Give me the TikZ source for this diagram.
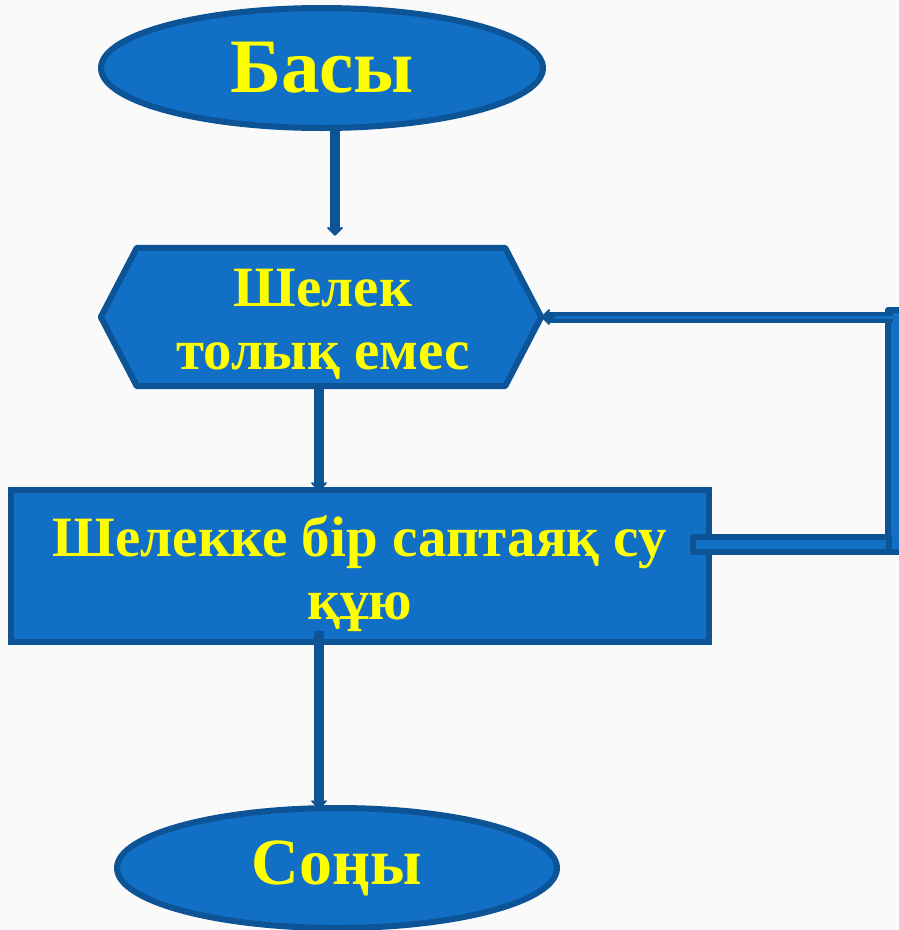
\documentclass[tikz,border=0pt]{standalone}
\usepackage{fontspec}
\setmainfont{Liberation Serif}
\usetikzlibrary{arrows.meta,shapes.geometric}
\definecolor{fillblue}{RGB}{17,111,197}
\definecolor{edgeblue}{RGB}{12,84,150}
\definecolor{txtyellow}{RGB}{255,255,0}
\definecolor{bgwhite}{RGB}{250,250,250}
\begin{document}
\begin{tikzpicture}[x=1pt,y=-1pt,
  shapebox/.style={fill=fillblue, draw=edgeblue, line width=6pt},
  txt/.style={text=txtyellow, font=\bfseries\fontsize{57}{63}\selectfont, align=center},
  bigtxt/.style={text=txtyellow, font=\bfseries\fontsize{77}{84}\selectfont},
  conn/.style={draw=edgeblue, line width=10pt, -{Stealth[length=10pt,width=20pt,inset=3pt,round]}},
  barbox/.style={fill=fillblue, draw=edgeblue, line width=6pt, line join=round},
 ]
\fill[bgwhite] (0,0) rectangle (898,930);
\useasboundingbox (0,0) rectangle (898,930);

% start ellipse
\node[shapebox, ellipse, minimum width=442, minimum height=120, inner sep=0, bigtxt] (start) at (322,68) {Басы};

% hexagon (loop condition)
\node[minimum width=440, minimum height=138, inner sep=0] (hex) at (321,317) {};
\draw[shapebox, line join=round] (hex.west) -- ([xshift=36pt]hex.north west) -- ([xshift=-36pt]hex.north east) -- (hex.east) -- ([xshift=-36pt]hex.south east) -- ([xshift=36pt]hex.south west) -- cycle;
\node[txt] at ([xshift=2pt,yshift=-7pt]hex.center) {Шелек\\толық емес};

% action rectangle
\node[shapebox, rectangle, minimum width=698, minimum height=152, inner sep=0] (act) at (360,566) {};
\node[txt] at ([yshift=-8pt]act.center) {Шелекке бір саптаяқ су\\құю};

% end ellipse
\node[shapebox, ellipse, minimum width=440, minimum height=120, inner sep=0, text=txtyellow, font=\bfseries\fontsize{66}{72}\selectfont] (end) at (337,868) {Соңы};

% connectors
\draw[conn, shorten >=12pt] ([xshift=13pt]start.south) -- ([xshift=13pt]start.south |- hex.north);
\draw[conn, shorten >=-4pt] ([xshift=-2pt]hex.south) -- ([xshift=-2pt]hex.south |- act.north);
\draw[conn, shorten >=-18pt] ([xshift=-41pt,yshift=14pt]act.south) -- ([xshift=-41pt,yshift=14pt]act.south |- end.north);

% loop back
\coordinate (vtop) at (888,310);
\coordinate (vbot) at (910,552);
\coordinate (bl) at (693,537);
\coordinate (br) at (889,552);
\coordinate (lend) at (893,317);
\draw[barbox] (vtop) rectangle (vbot);
\draw[barbox] (bl) rectangle (br);
\draw[draw=edgeblue, line width=11pt, -{Stealth[length=10pt,width=20pt,inset=3pt,round]}] (lend) -- (hex.east);
\draw[draw=fillblue, line width=3pt, shorten >=14pt] (lend) -- (hex.east);
\end{tikzpicture}
\end{document}
